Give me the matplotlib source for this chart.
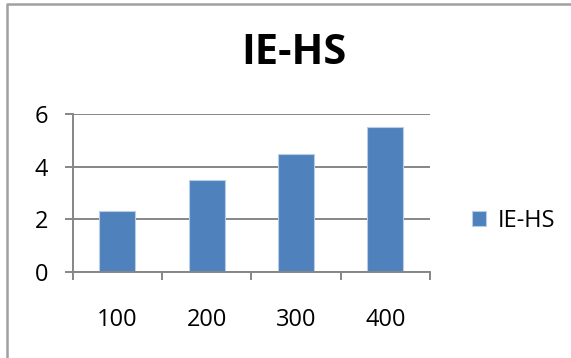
import matplotlib.pyplot as plt
from matplotlib.lines import Line2D

categories = ["100", "200", "300", "400"]
values = [2.3, 3.5, 4.5, 5.5]
series_name = "IE-HS"
y_ticks = [0, 2, 4, 6]

plt.rcParams['font.family'] = ['Open Sans', 'DejaVu Sans']
grey = '#868686'

fig = plt.figure(figsize=(5.71, 3.58), dpi=100)
ax = fig.add_axes([72.7 / 571, 1 - 271.7 / 358, (430 - 72.7) / 571, (271.7 - 114.3) / 358])

x = list(range(len(categories)))
ax.bar(x, values, width=0.4, color='#4F81BD', edgecolor='#B9CDE5', linewidth=0.8,
       label=series_name, zorder=3)

ax.set_xlim(-0.5, len(categories) - 0.5)
ax.set_ylim(0, 6)
ax.set_yticks(y_ticks)
ax.set_xticks(x)
ax.set_xticklabels(categories)
ax.set_xticks([i - 0.5 for i in range(len(categories) + 1)], minor=True)

ax.tick_params(axis='x', which='major', length=0, pad=26, labelsize=17)
ax.tick_params(axis='x', which='minor', length=5.5, width=1.4, color=grey, direction='out')
ax.tick_params(axis='y', length=5.5, width=1.4, color=grey, pad=12, labelsize=17)

ax.yaxis.grid(True, color=grey, linewidth=1.4, zorder=0)
for side in ['top', 'right']:
    ax.spines[side].set_visible(False)
for side in ['left', 'bottom']:
    ax.spines[side].set_color(grey)
    ax.spines[side].set_linewidth(1.4)
    ax.spines[side].set_zorder(4)

fig.text(294 / 571, 1 - 53 / 358, series_name, fontsize=30, fontweight='bold',
         ha='center', va='center')

fig.legend(loc='center left', bbox_to_anchor=(472 / 571, 1 - 221 / 358), frameon=False,
           fontsize=17, handlelength=0.6, handleheight=0.6, handletextpad=0.47,
           borderpad=0, borderaxespad=0)

# outer chart border (only top and left edges show)
bx, by = 6.5 / 571, 1 - 3.5 / 358
fig.lines.append(Line2D([bx, bx, 1.0], [0.0, by, by], transform=fig.transFigure,
                        color='#A0A0A0', linewidth=1.8))

fig.savefig('out.png', dpi=100)
